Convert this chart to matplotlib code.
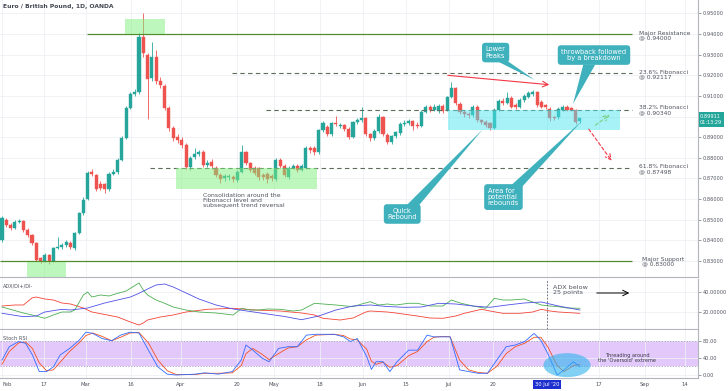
import matplotlib
matplotlib.use("Agg")
import matplotlib.pyplot as plt
from matplotlib.patches import Rectangle, Polygon, Ellipse
import numpy as np

plt.rcParams['font.family'] = ['DejaVu Sans']

# EUR/GBP daily candles, Feb 3 -> Aug 11 2020
opens = [
    .8402, .8499, .8475, .8460, .8489, .8494, .8450, .8426, .8387, .8315,
    .8300, .8329, .8300, .8363, .8368, .8378, .8387, .8363, .8436, .8533,
    .8601, .8731, .8717, .8673, .8673, .8649, .8722, .8731, .8790, .8896,
    .9042, .9109, .9119, .9386, .9298, .9187, .9289, .9172, .9148, .9042,
    .8945, .8901, .8886, .8862, .8756, .8804, .8819, .8828, .8765, .8780,
    .8751, .8717, .8702, .8707, .8707, .8693, .8731, .8828, .8775, .8751,
    .8751, .8717, .8722, .8712, .8698, .8790, .8760, .8707, .8751, .8760,
    .8741, .8751, .8848, .8848, .8828, .8935, .8949, .8915, .8969, .8954,
    .8959, .8940, .8901, .8974, .8983, .8993, .8915, .8896, .8930, .8998,
    .8911, .8877, .8906, .8920, .8964, .8969, .8978, .8959, .8954, .9022,
    .9046, .9032, .9027, .9051, .9032, .9095, .9138, .9061, .9022, .9012,
    .9008, .9046, .8983, .8974, .8969, .8945, .9032, .9075, .9066, .9090,
    .9056, .9046, .9080, .9095, .9109, .9119, .9070, .9056, .9037, .8998,
    .8998, .9032, .9046, .9041, .9032, .8978,
]
closes = [
    .8509, .8475, .8460, .8489, .8494, .8450, .8426, .8387, .8305, .8300,
    .8329, .8300, .8363, .8368, .8378, .8392, .8368, .8436, .8533, .8596,
    .8727, .8722, .8649, .8654, .8649, .8722, .8731, .8790, .8896, .9042,
    .9109, .9119, .9386, .9308, .9182, .9289, .9172, .9153, .9042, .8945,
    .8896, .8886, .8862, .8756, .8799, .8819, .8828, .8765, .8775, .8760,
    .8717, .8698, .8712, .8712, .8698, .8731, .8828, .8775, .8741, .8727,
    .8707, .8707, .8698, .8702, .8790, .8760, .8717, .8751, .8760, .8741,
    .8760, .8848, .8838, .8828, .8935, .8969, .8915, .8969, .8964, .8959,
    .8940, .8901, .8974, .8983, .8993, .8915, .8896, .8930, .8998, .8915,
    .8877, .8906, .8925, .8964, .8969, .8978, .8954, .8954, .9022, .9046,
    .9032, .9046, .9051, .9027, .9095, .9138, .9066, .9022, .9012, .9008,
    .9046, .8983, .8974, .8959, .8945, .9032, .9075, .9066, .9090, .9046,
    .9046, .9080, .9100, .9114, .9119, .9056, .9046, .9046, .8993, .8993,
    .9037, .9046, .9032, .9032, .8974, .8991,
]
highs = [
    .8519, .8510, .8482, .8497, .8505, .8500, .8458, .8432, .8392, .8322,
    .8338, .8336, .8370, .8418, .8388, .8400, .8395, .8442, .8540, .8610,
    .8735, .8745, .8722, .8690, .8680, .8730, .8745, .8800, .8905, .9050,
    .9120, .9135, .9405, .9502, .9310, .9361, .9323, .9190, .9160, .9050,
    .8955, .8915, .8900, .8870, .8808, .8850, .8840, .8840, .8790, .8795,
    .8760, .8725, .8722, .8720, .8715, .8740, .8862, .8835, .8782, .8760,
    .8758, .8725, .8730, .8720, .8800, .8798, .8768, .8760, .8770, .8768,
    .8772, .8855, .8858, .8855, .8942, .8978, .8958, .8975, .9003, .8968,
    .8966, .8948, .8980, .8995, .9046, .9000, .8922, .8940, .9010, .9005,
    .8918, .8912, .8932, .8975, .8985, .8990, .8985, .8972, .9030, .9055,
    .9058, .9060, .9060, .9062, .9100, .9167, .9145, .9070, .9030, .9020,
    .9058, .9055, .8990, .8985, .8975, .9040, .9085, .9090, .9118, .9100,
    .9065, .9088, .9108, .9125, .9130, .9125, .9078, .9062, .9045, .9005,
    .9045, .9058, .9056, .9048, .9038, .8995,
]
lows = [
    .8390, .8465, .8452, .8455, .8482, .8440, .8418, .8380, .8298, .8292,
    .8295, .8285, .8296, .8358, .8360, .8370, .8360, .8355, .8430, .8525,
    .8595, .8712, .8640, .8645, .8630, .8640, .8715, .8722, .8785, .8890,
    .9035, .9100, .9110, .9290, .8990, .9170, .9160, .9140, .9030, .8930,
    .8880, .8870, .8850, .8745, .8740, .8795, .8810, .8755, .8755, .8748,
    .8705, .8680, .8690, .8695, .8685, .8685, .8725, .8765, .8730, .8715,
    .8695, .8695, .8680, .8690, .8690, .8750, .8705, .8698, .8745, .8730,
    .8735, .8745, .8825, .8815, .8820, .8925, .8905, .8905, .8955, .8945,
    .8930, .8890, .8895, .8965, .8975, .8905, .8880, .8885, .8922, .8905,
    .8865, .8868, .8898, .8912, .8955, .8960, .8935, .8945, .8948, .9015,
    .9020, .9025, .9018, .9015, .9025, .9088, .9058, .9010, .9000, .8995,
    .9000, .8975, .8965, .8950, .8935, .8940, .9025, .9058, .9060, .9040,
    .9038, .9040, .9072, .9088, .9100, .9045, .9040, .9038, .8980, .8982,
    .8990, .9025, .9025, .9025, .8965, .8970,
]

# ADX / DI+ / DI- (bar index, value)
adx_idx = [0, 5, 8, 10, 14, 16, 20, 24, 27, 30, 32, 34, 36, 38, 40, 43, 46, 50, 54,
           58, 62, 66, 70, 74, 78, 82, 86, 90, 94, 98, 102, 106, 110, 114, 118, 122,
           126, 130, 135]
adx_val = [18.7, 15.3, 16, 20, 22.7, 22, 24, 29, 32, 35, 38.7, 43, 47, 48, 45, 39, 33,
           27, 23, 20.5, 18, 15.5, 12.3, 16, 22, 26, 27, 25.5, 24.7, 25, 28.7, 28, 26,
           24.7, 27, 29, 30, 26, 22]
dip_idx = [0, 5, 8, 10, 12, 14, 16, 17, 19, 20, 21, 23, 25, 27, 29, 30, 32, 33, 34, 36,
           38, 40, 43, 46, 50, 54, 56, 58, 60, 62, 65, 68, 70, 73, 75, 78, 82, 84, 86,
           88, 90, 92, 95, 97, 100, 103, 105, 107, 108, 110, 113, 115, 117, 119, 122,
           124, 126, 128, 130, 132, 135]
dip_val = [25, 19, 16, 13.7, 17, 20, 20, 22, 37, 40, 35, 37, 36, 38.7, 41, 43.7, 49, 42,
           37, 32, 28.7, 25, 22, 20, 19, 17, 23.7, 22, 22, 23, 22.7, 21, 22, 28.7, 28,
           27, 25.3, 28, 30.3, 27, 28, 27, 28.7, 28.7, 26, 26, 32, 29, 28, 26, 23.7,
           33.7, 32, 32, 33, 30, 27, 26, 25.3, 24, 23.7]
dim_idx = [0, 3, 5, 7, 8, 10, 12, 14, 16, 19, 21, 24, 27, 30, 32, 33, 34, 37, 40, 43,
           48, 54, 59, 65, 70, 73, 75, 79, 82, 85, 86, 90, 92, 97, 100, 103, 106, 108,
           112, 114, 117, 121, 124, 126, 128, 130, 135]
dim_val = [26, 27, 27, 34, 35, 33, 32, 29, 28, 24, 20, 17.5, 15, 10, 7, 9, 12, 15, 17,
           20, 22.7, 23.7, 22, 21, 19, 17, 13.7, 12, 14, 20, 21, 20, 19, 16, 14, 13.7,
           16, 18.7, 22.7, 21, 18.7, 18.7, 20, 22.7, 21, 20, 18.7]

# Stoch RSI %K / %D
st_idx = [0, 1.7, 3.9, 5.5, 7.1, 8.7, 10.4, 12, 13.6, 15.8, 18, 19.6, 21.2, 23.4, 25.6,
          27.7, 29.9, 32, 34.2, 36.4, 38.6, 40.7, 45.1, 47.3, 50.5, 53.8, 55.9, 57,
          58.6, 60.8, 62.4, 64.6, 66.8, 69, 71.1, 73.3, 77.6, 79.8, 81.4, 83, 85.2,
          86.3, 87.4, 89, 90.6, 92.3, 95, 97.1, 99.3, 100.9, 103.1, 104.7, 106.9, 109,
          111.2, 113.4, 115.6, 117.8, 119.9, 122.1, 124.3, 125.9, 127.5, 129.7, 131.3,
          133.5, 135]
st_k = [35, 66, 78, 74, 47, 8, 8, 19, 47, 62, 81, 100, 97, 85, 80, 93, 100, 98, 58, 19,
        2, 0, 2, 5, 2, 8, 35, 70, 58, 39, 31, 62, 66, 66, 93, 95, 95, 89, 78, 85, 43,
        13, 31, 31, 8, 31, 58, 58, 93, 89, 89, 89, 12, 8, 4, 4, 35, 66, 70, 78, 97, 81,
        50, 0, 12, 31, 19]
st_d = [25, 55, 75, 77, 62, 28, 10, 12, 30, 55, 75, 92, 98, 90, 80, 88, 98, 99, 75, 35,
        10, 1, 1, 4, 4, 5, 22, 50, 62, 48, 36, 50, 63, 66, 82, 93, 95, 92, 84, 82, 60,
        32, 25, 30, 18, 22, 45, 55, 78, 88, 90, 89, 35, 12, 6, 4, 20, 50, 66, 74, 88,
        88, 66, 22, 8, 22, 25]

tick_pos = [0, 9.8, 19.6, 30.1, 41.8, 54.9, 63.6, 74.3, 84.3, 94.4, 104.4, 114.7,
            127.3, 139.5, 150.2, 159.6]
tick_lbl = ["Feb", "17", "Mar", "16", "Apr", "20", "May", "18", "Jun", "15", "Jul",
            "20", "30 Jul '20", "17", "Sep", "14"]

UP, DOWN = "#26a69a", "#ef5350"
TEAL = "#3fb1bd"
GRID = "#eef0f5"
AXC = "#50535e"
XL = (-0.47, 162.6)

fig = plt.figure(figsize=(7.28, 3.91), dpi=100)
W = 698 / 728
ax = fig.add_axes([0, 1 - 277 / 391, W, 277 / 391])
ax_adx = fig.add_axes([0, 1 - 329 / 391, W, 50 / 391])
ax_st = fig.add_axes([0, 1 - 378 / 391, W, 48 / 391])

for a in (ax, ax_adx, ax_st):
    a.set_xlim(*XL)
    a.set_xticks(tick_pos)
    a.tick_params(axis="x", length=0, labelbottom=False)
    a.grid(True, color=GRID, lw=0.6, zorder=0)
    a.yaxis.tick_right()
    a.tick_params(axis="y", labelsize=3.6, colors=AXC, length=2, width=0.4, pad=1.5)
    for s in ("top", "left"):
        a.spines[s].set_visible(False)
    for s in ("right", "bottom"):
        a.spines[s].set_color("#b2b5be")
        a.spines[s].set_linewidth(0.8)

# ---- main price panel
o, c, h, l = map(np.array, (opens, closes, highs, lows))
x = np.arange(len(o))
col = np.where(c >= o, UP, DOWN)
ax.vlines(x, l, h, colors=col, lw=0.6, zorder=3)
ax.bar(x, np.abs(c - o), bottom=np.minimum(o, c), width=0.72, color=col,
       edgecolor=col, lw=0.3, zorder=3)

ax.set_ylim(0.82227, 0.95647)
yt = np.arange(0.83, 0.9501, 0.01)
ax.set_yticks(yt)
# the 0.90000 label sits under the last-price tag
ax.set_yticklabels(["" if abs(v - 0.90) < 1e-6 else f"{v:.5f}" for v in yt])

# support / resistance and fibonacci levels
ax.hlines(0.94, 19.9, 147.2, color="#558b2f", lw=0.9, zorder=4)
ax.hlines(0.83, XL[0], 147.2, color="#558b2f", lw=0.9, zorder=4)
for lvl, x0 in ((0.92117, 53.7), (0.90340, 61.7), (0.87498, 34.6)):
    ax.hlines(lvl, x0, 147.2, color="#5d6b5a", lw=0.8, linestyles=(0, (4, 3)), zorder=4)

lbl_kw = dict(fontsize=4.3, color=AXC, va="center", ha="left", linespacing=0.95, zorder=6)
ax.text(148.7, 0.9393, "Major Resistance\n@ 0.94000", **lbl_kw)
ax.text(148.7, 0.9204, "23.6% Fibonacci\n@ 0.92117", **lbl_kw)
ax.text(148.7, 0.9031, "38.2% Fibonacci\n@ 0.90340", **lbl_kw)
ax.text(148.7, 0.8745, "61.8% Fibonacci\n@ 0.87498", **lbl_kw)
ax.text(149.5, 0.8297, "Major Support\n@ 0.83000", **lbl_kw)

# highlighted zones
for (x0, x1, y0, y1) in ((28.7, 38.1, 0.9400, 0.9473), (5.8, 15.0, 0.8220, 0.8295),
                         (40.7, 73.6, 0.8649, 0.8751)):
    ax.add_patch(Rectangle((x0, y0), x1 - x0, y1 - y0, fc="#7df07d", ec="none",
                           alpha=0.5, zorder=5))
ax.add_patch(Rectangle((104.2, 0.8935), 40.2, 0.0097, fc="#4fe6f0", ec="none",
                       alpha=0.5, zorder=5))

ax.text(47, 0.8630, "Consolidation around the\nFibonacci level and\nsubsequent trend reversal",
        fontsize=4.4, color=AXC, va="top", ha="left", linespacing=1.05, zorder=6)

# arrows
ax.annotate("", xy=(128.5, 0.9153), xytext=(103.5, 0.9201),
            arrowprops=dict(arrowstyle="->", color="#f23645", lw=0.8), zorder=6)
ax.annotate("", xy=(142.8, 0.8775), xytext=(136.7, 0.8950),
            arrowprops=dict(arrowstyle="->", color="#f23645", lw=0.8, ls=(0, (3, 2))), zorder=6)
ax.annotate("", xy=(142.5, 0.9017), xytext=(138.1, 0.8950),
            arrowprops=dict(arrowstyle="->", color="#7ccf7c", lw=0.8, ls=(0, (3, 2))), zorder=6)


def callout(text, center, base, tip, ha="center", tx=None):
    ax.add_patch(Polygon([base[0], base[1], tip], closed=True, fc=TEAL, ec="none", zorder=7))
    tx = center[0] if tx is None else tx
    ax.text(tx, center[1], text, ha=ha, va="center", color="white", fontsize=4.8,
            linespacing=1.05, zorder=8,
            bbox=dict(boxstyle="round,pad=0.55,rounding_size=0.5", fc=TEAL, ec="none"))


callout("Lower\nPeaks", (115.4, 0.9310), ((115.9, 0.9266), (118.3, 0.9266)), (124.5, 0.9177),
        ha="left", tx=113.0)
callout("throwback followed\nby a breakdown", (138.3, 0.9298),
        ((135.8, 0.9252), (138.6, 0.9252)), (133.4, 0.9061))
callout("Quick\nRebound", (93.5, 0.8528), ((94.6, 0.8572), (97.0, 0.8560)), (112.4, 0.8940))
callout("Area for\npotential\nrebounds", (117.3, 0.8610), ((119.0, 0.8668), (121.3, 0.8655)),
        (135.5, 0.8979), ha="left", tx=113.5)

# last price tag on the axis
ax.text(1.003, 0.8986, "0.89911\n01:13:29", transform=ax.get_yaxis_transform(),
        fontsize=3.6, color="white", va="center", ha="left", linespacing=1.3, zorder=9,
        clip_on=False, bbox=dict(boxstyle="square,pad=0.3", fc="#22a699", ec="none"))

ax.text(0.005, 0.985, "Euro / British Pound, 1D, OANDA", transform=ax.transAxes,
        fontsize=4.3, weight="bold", color="#434651", va="top", ha="left", zorder=9)

# ---- ADX panel
ax_adx.set_ylim(3, 53)
ax_adx.set_yticks([20, 40])
ax_adx.set_yticklabels(["20.00000", "40.00000"])
ax_adx.plot(dim_idx, dim_val, color="#f44336", lw=0.6, zorder=3)
ax_adx.plot(dip_idx, dip_val, color="#4caf50", lw=0.6, zorder=3)
ax_adx.plot(adx_idx, adx_val, color="#5050e6", lw=0.6, zorder=3)
ax_adx.axvline(127.3, color="#555a66", lw=0.6, ls=(0, (2, 2)), zorder=4)
ax_adx.text(0.004, 0.9, "ADX/DI+/DI-", transform=ax_adx.transAxes, fontsize=3.6,
            color=AXC, va="top", ha="left")
ax_adx.text(128.7, 47, "ADX below\n25 points", fontsize=4.6, color=AXC, va="top",
            ha="left", linespacing=1.0)
ax_adx.annotate("", xy=(147.2, 39), xytext=(138.3, 39),
                arrowprops=dict(arrowstyle="->", color="black", lw=0.7))

# ---- Stoch RSI panel
ax_st.set_ylim(-7, 105)
ax_st.set_yticks([0, 40, 80])
ax_st.set_yticklabels(["0.00", "40.00", "80.00"])
ax_st.axhspan(20, 80, color="#e3c8fb", zorder=1, lw=0)
for lv in (20, 80):
    ax_st.axhline(lv, color="#9c8cb9", lw=0.5, ls=(0, (2, 2)), zorder=2)
ax_st.plot(st_idx, st_d, color="#f4511e", lw=0.6, zorder=3)
ax_st.plot(st_idx, st_k, color="#2f6bff", lw=0.6, zorder=3)
ax_st.add_patch(Ellipse((132, 23), 11, 56, fc="#2fb3ee", ec="none", alpha=0.6, zorder=4))
ax_st.text(0.004, 0.88, "Stoch RSI", transform=ax_st.transAxes, fontsize=3.6,
           color=AXC, va="top", ha="left")
ax_st.text(146, 40, "Threading around\nthe 'Oversold' extreme", fontsize=3.6,
           color="#3a3d46", va="center", ha="center", linespacing=1.1, zorder=5)

ax_st.tick_params(axis="x", labelbottom=True, labelsize=3.8, colors=AXC, pad=3)
ax_st.set_xticklabels(tick_lbl)
xlabels = ax_st.get_xticklabels()
xlabels[0].set_horizontalalignment("left")
hl = xlabels[tick_lbl.index("30 Jul '20")]
hl.set_color("white")
hl.set_bbox(dict(boxstyle="square,pad=0.35", fc="#1e2fd0", ec="none"))

fig.savefig("out.png", dpi=100)
